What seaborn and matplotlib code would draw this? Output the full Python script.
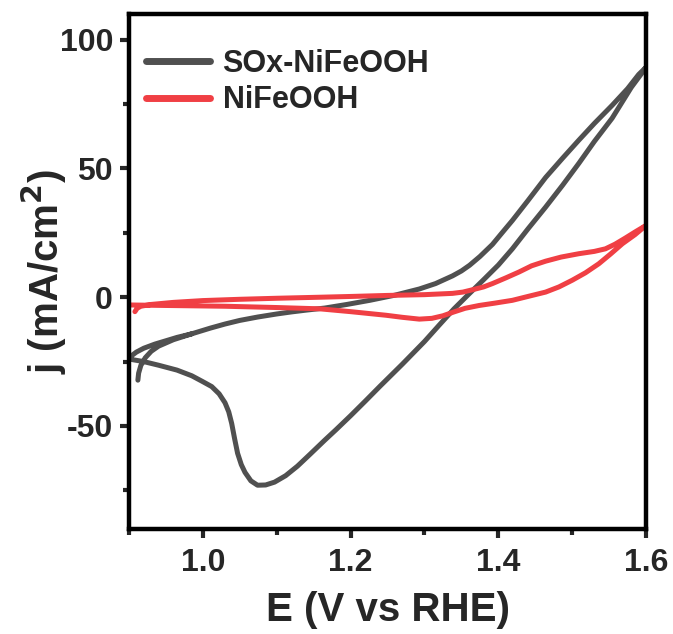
import numpy as np
import pandas as pd
import matplotlib
matplotlib.use("Agg")
import matplotlib.pyplot as plt
import seaborn as sns
from matplotlib.ticker import MultipleLocator

# SOx-NiFeOOH CV loop: forward scan, reverse scan, start of the next forward scan
sox_E = [0.912, 0.913, 0.916, 0.922, 0.930, 0.940, 0.960, 0.985, 1.010, 1.030,
         1.050, 1.074, 1.100, 1.120, 1.140, 1.165, 1.195, 1.226, 1.260, 1.293,
         1.315, 1.338, 1.350, 1.361, 1.375, 1.392, 1.405, 1.419, 1.440, 1.464,
         1.487, 1.509, 1.530, 1.554, 1.575, 1.590, 1.600,
         1.595, 1.580, 1.567, 1.554, 1.530, 1.509, 1.487, 1.464, 1.440, 1.419,
         1.400, 1.380, 1.360, 1.340, 1.320, 1.300, 1.270, 1.240, 1.220, 1.200,
         1.180, 1.165, 1.145, 1.128, 1.112, 1.097, 1.085, 1.074, 1.065, 1.057,
         1.052, 1.047, 1.043, 1.039, 1.035, 1.030, 1.022, 1.012, 1.000, 0.985,
         0.965, 0.940, 0.920, 0.900,
         0.903, 0.910, 0.920, 0.935, 0.950, 0.965, 0.985]
sox_j = [-32.2, -29.5, -26.5, -23.5, -21.0, -19.0, -16.5, -14.2, -12.0, -10.4,
         -9.0, -7.7, -6.5, -5.7, -5.0, -4.2, -2.8, -1.2, 0.8, 3.2,
         5.3, 8.3, 10.2, 12.4, 15.8, 20.5, 25.0, 29.8, 37.5, 46.5,
         54.0, 61.0, 67.5, 74.5, 81.0, 86.5, 89.3,
         87.3, 81.5, 75.5, 69.5, 60.5, 52.0, 43.5, 35.0, 26.5, 18.8,
         12.5, 6.8, 1.2, -4.5, -10.8, -17.2, -26.0, -34.5, -40.3, -46.0,
         -51.5, -55.5, -61.0, -65.6, -69.3, -71.8, -72.9, -73.0, -71.3, -68.0,
         -65.0, -60.6, -55.0, -49.0, -44.5, -41.0, -37.5, -34.7, -32.8, -30.5,
         -28.3, -26.4, -25.0, -24.0,
         -22.8, -21.3, -19.8, -18.2, -16.9, -15.6, -14.2]

# NiFeOOH CV loop: forward then reverse
ni_E = [0.908, 0.911, 0.916, 0.930, 0.960, 1.000, 1.050, 1.100, 1.158, 1.200,
        1.250, 1.300, 1.338, 1.352, 1.365, 1.380, 1.392, 1.410, 1.428, 1.445,
        1.464, 1.485, 1.509, 1.530, 1.545, 1.558, 1.572, 1.586, 1.600,
        1.585, 1.568, 1.552, 1.536, 1.518, 1.500, 1.482, 1.464, 1.440, 1.419,
        1.395, 1.374, 1.355, 1.340, 1.325, 1.310, 1.293, 1.270, 1.248, 1.200,
        1.158, 1.100, 1.030, 0.950, 0.900]
ni_j = [-5.6, -4.3, -3.5, -2.8, -2.0, -1.3, -0.8, -0.4, 0.0, 0.3,
        0.7, 1.0, 1.5, 2.0, 2.9, 4.0, 5.3, 7.5, 9.8, 12.2,
        14.0, 15.6, 16.9, 17.8, 18.8, 20.6, 23.0, 25.5, 27.9,
        24.3, 20.8, 16.8, 13.0, 9.5, 6.6, 4.0, 2.0, 0.3, -1.2,
        -2.3, -3.2, -4.3, -5.7, -7.2, -8.2, -8.5, -7.8, -7.0, -5.6,
        -4.5, -4.0, -3.5, -3.2, -3.0]

labels = ["SOx-NiFeOOH", "NiFeOOH"]
colors = ["#505050", "#F03F44"]

df = pd.concat([
    pd.DataFrame({"E": sox_E, "j": sox_j, "sample": labels[0]}),
    pd.DataFrame({"E": ni_E, "j": ni_j, "sample": labels[1]}),
], ignore_index=True)

sns.set_style("ticks")
plt.rcParams['font.family'] = ['Liberation Sans', 'DejaVu Sans']
plt.rcParams['font.weight'] = 'bold'
plt.rcParams['mathtext.default'] = 'bf'
plt.rcParams['axes.unicode_minus'] = False

fig = plt.figure(figsize=(6.73, 6.34), dpi=100)
ax = fig.add_axes([0.1917, 0.1656, 0.7683, 0.8124])

sns.lineplot(ax=ax, data=df, x="E", y="j", hue="sample", palette=colors,
             sort=False, estimator=None, linewidth=3.6,
             solid_joinstyle='round', solid_capstyle='round')

ax.set_xlim(0.9, 1.6)
ax.set_ylim(-90, 110)
ax.xaxis.set_minor_locator(MultipleLocator(0.1))
ax.yaxis.set_minor_locator(MultipleLocator(25))
ax.set_xticks([1.0, 1.2, 1.4, 1.6])
ax.set_yticks([-50, 0, 50, 100])

for s in ax.spines.values():
    s.set_linewidth(3.2)
    s.set_color("black")
ax.tick_params(which='major', length=6.5, width=3, labelsize=23, pad=5, direction='out')
ax.tick_params(axis='x', which='major', pad=7)
ax.tick_params(which='minor', length=4, width=3, direction='out')
for t in ax.get_xticklabels() + ax.get_yticklabels():
    t.set_fontweight('bold')

ax.set_xlabel("E (V vs RHE)", fontsize=29, fontweight='bold', labelpad=9.5)
ax.set_ylabel("j (mA/cm$^2$)", fontsize=29, fontweight='bold', labelpad=-7)

leg = ax.legend(loc='upper left', bbox_to_anchor=(-0.02, 0.985), frameon=False,
                fontsize=22, handlelength=2.1, handletextpad=0.4, labelspacing=0.2,
                borderaxespad=0.5)
for line in leg.get_lines():
    line.set_linewidth(5)
for t in leg.get_texts():
    t.set_fontweight('bold')

fig.savefig("out.png", dpi=100)
